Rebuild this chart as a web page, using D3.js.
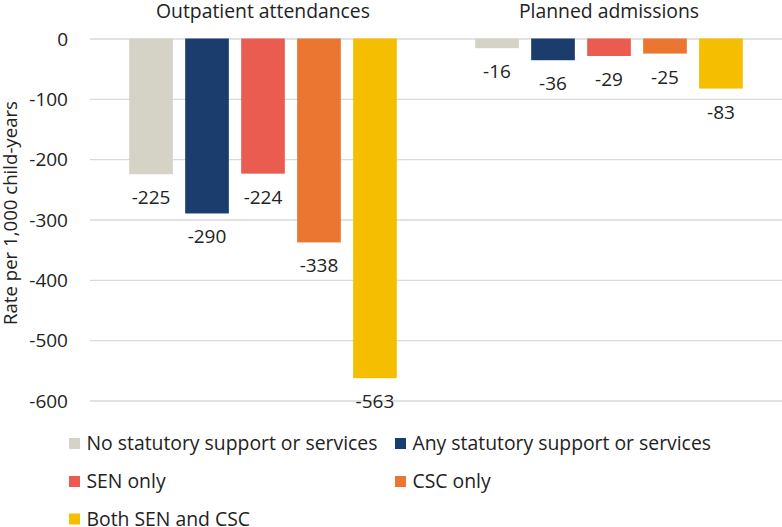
<!DOCTYPE html>
<html><head><meta charset="utf-8">
<script src="https://cdn.jsdelivr.net/npm/d3@7"></script>
<style>body{margin:0;background:#fff}svg{display:block}svg text{font-family:'Open Sans',sans-serif}</style>
</head><body>
<script>
const groups = ["Outpatient attendances", "Planned admissions"];
const series = ["No statutory support or services", "Any statutory support or services", "SEN only", "CSC only", "Both SEN and CSC"];
const colors = ["#D5D3C6", "#1B3D6E", "#E95C4F", "#EB7631", "#F5BF00"];
const outpatient = [-225, -290, -224, -338, -563];
const planned = [-16, -36, -29, -25, -83];
const yTicks = [0, -100, -200, -300, -400, -500, -600];
const yTitle = "Rate per 1,000 child-years";

const values = [outpatient, planned];
const W = 782, H = 527;
const svg = d3.select("body").append("svg").attr("width", W).attr("height", H);

// font-size fitting to the original text widths
function fitSize(str, target) {
  const t = svg.append("text").style("font-size", "20px").text(str);
  const w = t.node().getComputedTextLength();
  t.remove();
  return 20 * target / w;
}
const fsTitle = fitSize("Outpatient attendances", 214);
const fsLabel = Math.min(19, fitSize("-225", 40));
const fsTick = Math.min(19, fitSize("-600", 40));
const fsYTitle = fitSize(yTitle, 224);
const fsLegend = fitSize("No statutory support or services", 291);

const x0 = d3.scaleBand().domain(groups).range([90, 782]).paddingInner(0).paddingOuter(0);
const x1 = d3.scaleBand().domain(series).range([0, x0.bandwidth()]).paddingInner(0.22).paddingOuter(0.7);
const y = d3.scaleLinear().domain([0, -600]).range([38.5, 400.5]);

// gridlines + tick labels
const yAxis = d3.axisLeft(y).tickValues(yTicks).tickSize(-(782 - 90)).tickFormat(d3.format("d"));
const ga = svg.append("g").attr("transform", "translate(90,0)").call(yAxis);
ga.attr("font-family", null).attr("font-size", null);
ga.select(".domain").remove();
ga.selectAll(".tick line").attr("stroke", "#d9d9d9").attr("stroke-width", 1.3);
ga.selectAll(".tick text").attr("x", -22).attr("dy", "0.35em").attr("fill", "#222")
  .style("font-size", fsTick + "px")
  .text(d => d === 0 ? "0" : "-" + Math.abs(d));

// group titles
svg.append("g").selectAll("text").data(groups).join("text")
  .attr("x", d => x0(d) + x0.bandwidth() / 2).attr("y", 18)
  .attr("text-anchor", "middle").attr("fill", "#222")
  .style("font-size", fsTitle + "px").text(d => d);

// bars
groups.forEach((g, gi) => {
  const gg = svg.append("g").attr("transform", `translate(${x0(g)},0)`);
  const data = series.map((s, i) => ({s, v: values[gi][i], c: colors[i]}));
  gg.selectAll("rect").data(data).join("rect")
    .attr("x", d => x1(d.s)).attr("width", x1.bandwidth())
    .attr("y", y(0)).attr("height", d => y(d.v) - y(0))
    .attr("fill", d => d.c);
  gg.selectAll("text").data(data).join("text")
    .attr("x", d => x1(d.s) + x1.bandwidth() / 2).attr("y", d => y(d.v) + 30)
    .attr("text-anchor", "middle").attr("fill", "#222")
    .style("font-size", fsLabel + "px")
    .text(d => d.v);
});

// y title
svg.append("text").attr("transform", `translate(17,213) rotate(-90)`)
  .attr("text-anchor", "middle").attr("fill", "#222")
  .style("font-size", fsYTitle + "px").text(yTitle);

// legend
const legPos = [[69, 443.5], [395, 443.5], [69, 481.5], [395, 481.5], [69, 519]];
const lg = svg.append("g").selectAll("g").data(series).join("g")
  .attr("transform", (d, i) => `translate(${legPos[i][0]},${legPos[i][1]})`);
lg.append("rect").attr("x", 0).attr("y", -5.5).attr("width", 11).attr("height", 11).attr("fill", (d, i) => colors[i]);
lg.append("text").attr("x", 17.5).attr("y", 6.5).attr("fill", "#222")
  .style("font-size", fsLegend + "px").text(d => d);
</script>
</body></html>
